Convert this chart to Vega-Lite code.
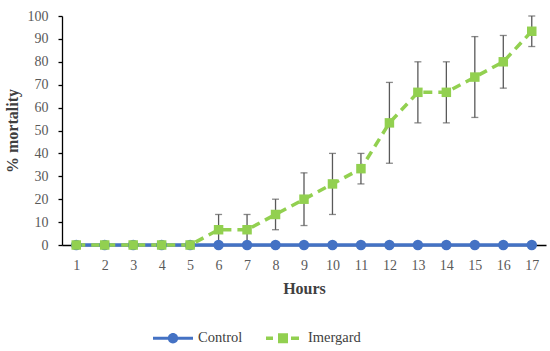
{
  "$schema": "https://vega.github.io/schema/vega-lite/v6.json",
  "width": 484,
  "height": 229,
  "autosize": {"type": "none"},
  "padding": {"left": 62, "top": 16, "right": 4, "bottom": 106},
  "config": {
    "view": {"stroke": null},
    "font": "Liberation Serif",
    "axis": {"labelFont": "Liberation Serif", "titleFont": "Liberation Serif"},
    "legend": {"labelFont": "Liberation Serif"}
  },
  "resolve": {"axis": {"y": "independent"}, "scale": {"y": "shared"}},
  "data": {
    "values": [
      {"hour": 1, "series": "Control", "value": 0},
      {"hour": 2, "series": "Control", "value": 0},
      {"hour": 3, "series": "Control", "value": 0},
      {"hour": 4, "series": "Control", "value": 0},
      {"hour": 5, "series": "Control", "value": 0},
      {"hour": 6, "series": "Control", "value": 0},
      {"hour": 7, "series": "Control", "value": 0},
      {"hour": 8, "series": "Control", "value": 0},
      {"hour": 9, "series": "Control", "value": 0},
      {"hour": 10, "series": "Control", "value": 0},
      {"hour": 11, "series": "Control", "value": 0},
      {"hour": 12, "series": "Control", "value": 0},
      {"hour": 13, "series": "Control", "value": 0},
      {"hour": 14, "series": "Control", "value": 0},
      {"hour": 15, "series": "Control", "value": 0},
      {"hour": 16, "series": "Control", "value": 0},
      {"hour": 17, "series": "Control", "value": 0},
      {"hour": 1, "series": "Imergard", "value": 0},
      {"hour": 2, "series": "Imergard", "value": 0},
      {"hour": 3, "series": "Imergard", "value": 0},
      {"hour": 4, "series": "Imergard", "value": 0},
      {"hour": 5, "series": "Imergard", "value": 0},
      {"hour": 6, "series": "Imergard", "value": 6.67, "lo": 0, "hi": 13.33},
      {"hour": 7, "series": "Imergard", "value": 6.67, "lo": 0, "hi": 13.33},
      {"hour": 8, "series": "Imergard", "value": 13.33, "lo": 6.67, "hi": 20},
      {"hour": 9, "series": "Imergard", "value": 20, "lo": 8.5, "hi": 31.5},
      {"hour": 10, "series": "Imergard", "value": 26.67, "lo": 13.33, "hi": 40},
      {"hour": 11, "series": "Imergard", "value": 33.33, "lo": 26.67, "hi": 40},
      {"hour": 12, "series": "Imergard", "value": 53.33, "lo": 35.7, "hi": 71},
      {"hour": 13, "series": "Imergard", "value": 66.67, "lo": 53.33, "hi": 80},
      {"hour": 14, "series": "Imergard", "value": 66.67, "lo": 53.33, "hi": 80},
      {"hour": 15, "series": "Imergard", "value": 73.33, "lo": 55.7, "hi": 91},
      {"hour": 16, "series": "Imergard", "value": 80, "lo": 68.5, "hi": 91.5},
      {"hour": 17, "series": "Imergard", "value": 93.33, "lo": 86.67, "hi": 100}
    ]
  },
  "encoding": {
    "x": {
      "field": "hour",
      "type": "ordinal",
      "scale": {"type": "point", "padding": 0.5},
      "axis": {
        "title": "Hours",
        "labelAngle": 0,
        "ticks": false,
        "domainColor": "#000000",
        "domainWidth": 1.3,
        "labelFont": "Liberation Serif",
        "labelFontSize": 14,
        "labelColor": "#595959",
        "labelPadding": 13,
        "titleFont": "Liberation Serif",
        "titleFontSize": 16,
        "titleFontWeight": "bold",
        "titleColor": "#404040",
        "titlePadding": 8
      }
    }
  },
  "layer": [
    {
      "mark": {"type": "line", "strokeWidth": 3.5},
      "encoding": {
        "y": {
          "field": "value",
          "type": "quantitative",
          "scale": {"domain": [0, 100], "nice": false},
          "axis": {
            "title": "% mortality",
            "values": [0, 10, 20, 30, 40, 50, 60, 70, 80, 90, 100],
            "labelOverlap": false,
            "grid": false,
            "domainColor": "#000000",
            "domainWidth": 1.3,
            "tickColor": "#000000",
            "tickWidth": 1.3,
            "tickSize": 4,
            "labelFont": "Liberation Serif",
            "labelFontSize": 14,
            "labelColor": "#595959",
            "labelPadding": 10,
            "titleFont": "Liberation Serif",
            "titleFontSize": 16,
            "titleFontWeight": "bold",
            "titleColor": "#404040",
            "titlePadding": 7,
            "encode": {
              "ticks": {"update": {"x2": {"value": 4}}}
            }
          }
        },
        "color": {
          "field": "series",
          "type": "nominal",
          "scale": {"domain": ["Control", "Imergard"], "range": ["#4472C4", "#92D050"]},
          "legend": {
            "orient": "none",
            "legendX": 91,
            "legendY": 302,
            "direction": "horizontal",
            "title": null,
            "symbolSize": 1600,
            "symbolStrokeWidth": 0,
            "symbolOpacity": 1,
            "labelFont": "Liberation Serif",
            "labelFontSize": 14.5,
            "labelColor": "#404040",
            "labelOffset": 5,
            "columnPadding": 20,
            "encode": {
              "symbols": {
                "update": {
                  "shape": {"signal": "datum.value === 'Control' ? 'M-1,-0.08H-0.25V0.08H-1Z M0.25,-0.08H1V0.08H0.25Z M-0.26,0A0.26,0.26 0 1,1 0.26,0A0.26,0.26 0 1,1 -0.26,0Z' : 'M-0.85,-0.09H-0.5V0.09H-0.85Z M-0.25,-0.25H0.25V0.25H-0.25Z M0.4,-0.09H0.8V0.09H0.4Z'"},
                  "fill": {"signal": "datum.value === 'Control' ? '#4472C4' : '#92D050'"},
                  "stroke": {"value": "transparent"},
                  "strokeDash": {"value": [1, 0]}
                }
              }
            }
          }
        },
        "strokeDash": {
          "field": "series",
          "type": "nominal",
          "scale": {"domain": ["Control", "Imergard"], "range": [[1, 0], [9, 6]]},
          "legend": null
        }
      }
    },
    {
      "transform": [{"filter": "datum.series === 'Imergard' && datum.hour >= 6"}],
      "mark": {"type": "rule", "color": "#595959", "strokeWidth": 1.3},
      "encoding": {
        "y": {"field": "lo", "type": "quantitative", "axis": null},
        "y2": {"field": "hi"}
      }
    },
    {
      "transform": [{"filter": "datum.series === 'Imergard' && datum.hour >= 6"}],
      "mark": {"type": "tick", "color": "#595959", "size": 7, "thickness": 1.3},
      "encoding": {
        "y": {"field": "lo", "type": "quantitative", "axis": null}
      }
    },
    {
      "transform": [{"filter": "datum.series === 'Imergard' && datum.hour >= 6"}],
      "mark": {"type": "tick", "color": "#595959", "size": 7, "thickness": 1.3},
      "encoding": {
        "y": {"field": "hi", "type": "quantitative", "axis": null}
      }
    },
    {
      "transform": [{"filter": "datum.series === 'Control'"}],
      "mark": {"type": "point", "filled": true, "opacity": 1, "shape": "circle", "size": 110, "color": "#4472C4"},
      "encoding": {
        "y": {"field": "value", "type": "quantitative", "axis": null}
      }
    },
    {
      "transform": [{"filter": "datum.series === 'Imergard'"}],
      "mark": {"type": "point", "filled": true, "opacity": 1, "shape": "square", "size": 90, "color": "#92D050"},
      "encoding": {
        "y": {"field": "value", "type": "quantitative", "axis": null}
      }
    }
  ]
}
